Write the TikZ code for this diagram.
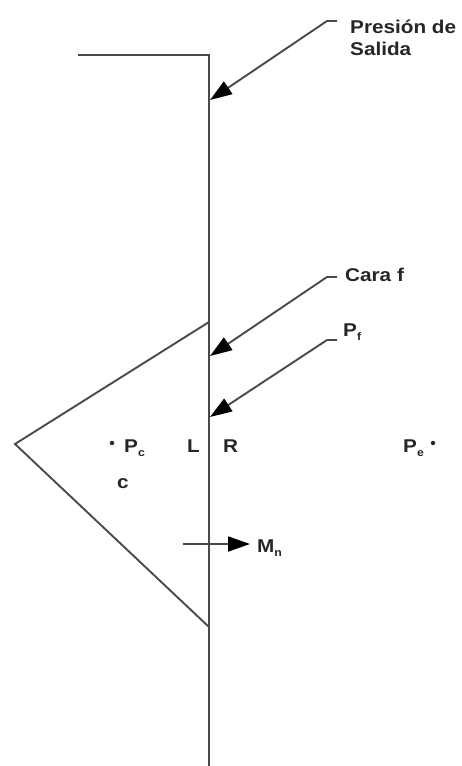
\documentclass[tikz,border=0pt]{standalone}
\usepackage{fontspec}
\setmainfont[FakeStretch=1.12]{Liberation Sans}
\usetikzlibrary{arrows.meta}
\definecolor{linegray}{HTML}{4A4A4A}
\definecolor{txt}{HTML}{262626}
\newcommand{\sbs}[1]{\raisebox{-4pt}{\fontsize{11}{11}\selectfont #1}}
\begin{document}
\begin{tikzpicture}[x=1pt,y=-1pt,
  ln/.style={draw=linegray, line width=1.9pt},
  arr/.style={ln, -{Triangle[length=22pt,width=15pt,fill=black,color=black]}},
  lab/.style={text=txt, font=\fontsize{18.5}{22}\selectfont\bfseries, inner sep=0pt, anchor=base west},
  dotn/.style={circle, fill=txt, inner sep=0pt, minimum size=4.5pt}]
\useasboundingbox (0,0) rectangle (461,766);
% wall
\coordinate (hl) at (78,55);
\coordinate (corner) at (209,55);
\coordinate (bottom) at (209,766);
\draw[ln] (hl) -- (corner) -- (bottom);
% triangle
\coordinate (ttop) at (209,322);
\coordinate (apex) at (15,444);
\coordinate (tbot) at (209,627);
\draw[ln] (ttop) -- (apex) -- (tbot);
% labels
\node[lab] (presion) at (350,33) {Presión de};
\node[lab] (salida) at (350,55) {Salida};
\node[lab] (cara) at (345,281) {Cara f};
\node[lab] (pf) at (343,336) {P\sbs{f}};
\node[dotn] (pcdot) at (112,443) {};
\node[lab] (pc) at (124,452) {P\sbs{c}};
\node[lab] (L) at (187,452) {L};
\node[lab] (R) at (223,452) {R};
\node[lab] (c) at (117,488) {c};
\node[lab] (pe) at (403,452) {P\sbs{e}};
\node[dotn] (pedot) at (433,443) {};
\node[lab] (mn) at (257,552) {M\sbs{n}};
% arrow tips and tails
\coordinate (tip1) at (210,100);
\coordinate (tip2) at (210,356);
\coordinate (tip3) at (210,417);
\coordinate (tail1) at (337,21);
\coordinate (tail2) at (337,277);
\coordinate (tail3) at (337,340);
\draw[arr] (tail1) -- ++(-10,0) -- (tip1);
\draw[arr] (tail2) -- ++(-10,0) -- (tip2);
\draw[arr] (tail3) -- ++(-10,0) -- (tip3);
\coordinate (mstart) at (183,544);
\coordinate (mtip) at (250,544);
\draw[arr] (mstart) -- (mtip);
\end{tikzpicture}
\end{document}
